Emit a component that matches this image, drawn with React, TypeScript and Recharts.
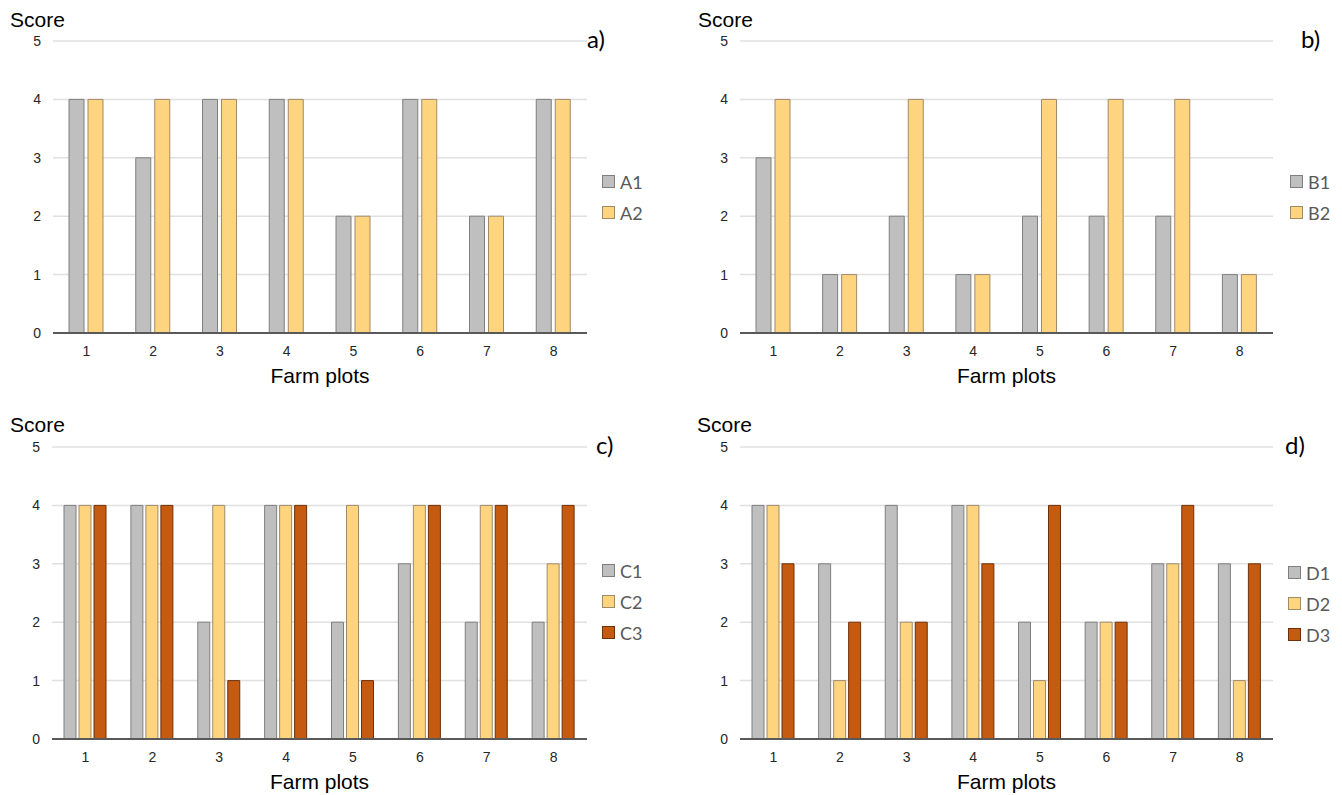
import React from 'react';
import { BarChart, Bar, XAxis, YAxis, CartesianGrid, Legend } from 'recharts';

const plots = ['1', '2', '3', '4', '5', '6', '7', '8'];
const yTicks = [0, 1, 2, 3, 4, 5];

const A1 = [4, 3, 4, 4, 2, 4, 2, 4];
const A2 = [4, 4, 4, 4, 2, 4, 2, 4];
const B1 = [3, 1, 2, 1, 2, 2, 2, 1];
const B2 = [4, 1, 4, 1, 4, 4, 4, 1];
const C1 = [4, 4, 2, 4, 2, 3, 2, 2];
const C2 = [4, 4, 4, 4, 4, 4, 4, 3];
const C3 = [4, 4, 1, 4, 1, 4, 4, 4];
const D1 = [4, 3, 4, 4, 2, 2, 3, 3];
const D2 = [4, 1, 2, 4, 1, 2, 3, 1];
const D3 = [3, 2, 2, 3, 4, 2, 4, 3];

const GRAY = { fill: '#BFBFBF', stroke: '#7F7F7F' };
const YELLOW = { fill: '#FFD47F', stroke: '#9E8B6A' };
const ORANGE = { fill: '#C55A11', stroke: '#6E3009' };

type Series = { name: string; values: number[]; color: { fill: string; stroke: string } };

const buildData = (series: Series[]) =>
  plots.map((p, i) => {
    const row: Record<string, string | number> = { plot: p };
    series.forEach((s) => {
      row[s.name] = s.values[i];
    });
    return row;
  });

const LegendBox = ({ series }: { series: Series[] }) => (
  <div>
    {series.map((s) => (
      <div key={s.name} style={{ display: 'flex', alignItems: 'center', height: 31 }}>
        <span
          style={{
            display: 'inline-block',
            width: 11,
            height: 11,
            background: s.color.fill,
            border: `1px solid ${s.color.stroke}`,
          }}
        />
        <span style={{ marginLeft: 5, fontFamily: 'Lato, sans-serif', fontSize: 18, color: '#595959', lineHeight: '18px' }}>
          {s.name}
        </span>
      </div>
    ))}
  </div>
);

type PanelProps = {
  series: Series[];
  left: number;
  top: number;
  height: number;
  marginTop: number;
  yWidth: number;
  marginRight: number;
  legendLeft: number;
  legendTop: number;
  catGap: number;
  barGap: number;
};

const Panel = (p: PanelProps) => {
  const data = buildData(p.series);
  return (
    <div style={{ position: 'absolute', left: p.left, top: p.top }}>
      <BarChart
        width={671}
        height={p.height}
        data={data}
        margin={{ top: p.marginTop, right: p.marginRight, left: 0, bottom: p.height - p.marginTop - 292 - 30 }}
        barCategoryGap={p.catGap}
        barGap={p.barGap}
      >
        <CartesianGrid vertical={false} stroke="#E0E0E0" strokeWidth={1.5} />
        <XAxis
          dataKey="plot"
          height={30}
          tickLine={false}
          axisLine={{ stroke: '#595959', strokeWidth: 2 }}
          tickMargin={7}
          tick={{ fill: '#262626', fontSize: 14, fontFamily: 'Liberation Sans, Arial, sans-serif' }}
          label={{
            value: 'Farm plots',
            position: 'bottom',
            offset: 5,
            fill: '#000000',
            fontSize: 21,
            fontFamily: 'Liberation Sans, Arial, sans-serif',
          }}
        />
        <YAxis
          width={p.yWidth}
          domain={[0, 5]}
          ticks={yTicks}
          tickLine={false}
          axisLine={false}
          tickMargin={6}
          tick={{ fill: '#262626', fontSize: 14, fontFamily: 'Liberation Sans, Arial, sans-serif' }}
        />
        <Legend
          layout="vertical"
          align="center"
          verticalAlign="middle"
          wrapperStyle={{ left: p.legendLeft, top: p.legendTop, width: 60, right: 'auto', bottom: 'auto' }}
          content={() => <LegendBox series={p.series} />}
        />
        {p.series.map((s) => (
          <Bar
            key={s.name}
            dataKey={s.name}
            fill={s.color.fill}
            stroke={s.color.stroke}
            strokeWidth={1}
            isAnimationActive={false}
          />
        ))}
      </BarChart>
    </div>
  );
};

const seriesA: Series[] = [
  { name: 'A1', values: A1, color: GRAY },
  { name: 'A2', values: A2, color: YELLOW },
];
const seriesB: Series[] = [
  { name: 'B1', values: B1, color: GRAY },
  { name: 'B2', values: B2, color: YELLOW },
];
const seriesC: Series[] = [
  { name: 'C1', values: C1, color: GRAY },
  { name: 'C2', values: C2, color: YELLOW },
  { name: 'C3', values: C3, color: ORANGE },
];
const seriesD: Series[] = [
  { name: 'D1', values: D1, color: GRAY },
  { name: 'D2', values: D2, color: YELLOW },
  { name: 'D3', values: D3, color: ORANGE },
];

const textStyle = { fontFamily: 'Liberation Sans, Arial, sans-serif', fontSize: 21, fill: '#000' };
const tagStyle = { fontFamily: 'Lato, sans-serif', fontSize: 24, fill: '#000' };

export default function App() {
  return (
    <div style={{ position: 'absolute', left: 0, top: 0, width: 1342, height: 795, background: '#fff', overflow: 'hidden' }}>
      <Panel series={seriesA} left={0} top={0} height={400} marginTop={41} yWidth={53} marginRight={84} legendLeft={602} legendTop={166} catGap={16} barGap={4} />
      <Panel series={seriesB} left={671} top={0} height={400} marginTop={41} yWidth={69} marginRight={69} legendLeft={619} legendTop={166} catGap={16} barGap={4} />
      <Panel series={seriesC} left={0} top={400} height={395} marginTop={47} yWidth={52} marginRight={84} legendLeft={602} legendTop={155} catGap={12} barGap={3} />
      <Panel series={seriesD} left={671} top={400} height={395} marginTop={47} yWidth={69} marginRight={69} legendLeft={617} legendTop={157} catGap={12} barGap={3} />
      <svg width={1342} height={795} style={{ position: 'absolute', left: 0, top: 0, pointerEvents: 'none' }}>
        <text x={10} y={27} {...textStyle}>Score</text>
        <text x={698} y={27} {...textStyle}>Score</text>
        <text x={10} y={432} {...textStyle}>Score</text>
        <text x={697} y={432} {...textStyle}>Score</text>
        <text x={587} y={48} {...tagStyle}>a)</text>
        <text x={1301} y={48} {...tagStyle}>b)</text>
        <text x={596} y={454} {...tagStyle}>c)</text>
        <text x={1285} y={454} {...tagStyle}>d)</text>
      </svg>
    </div>
  );
}
